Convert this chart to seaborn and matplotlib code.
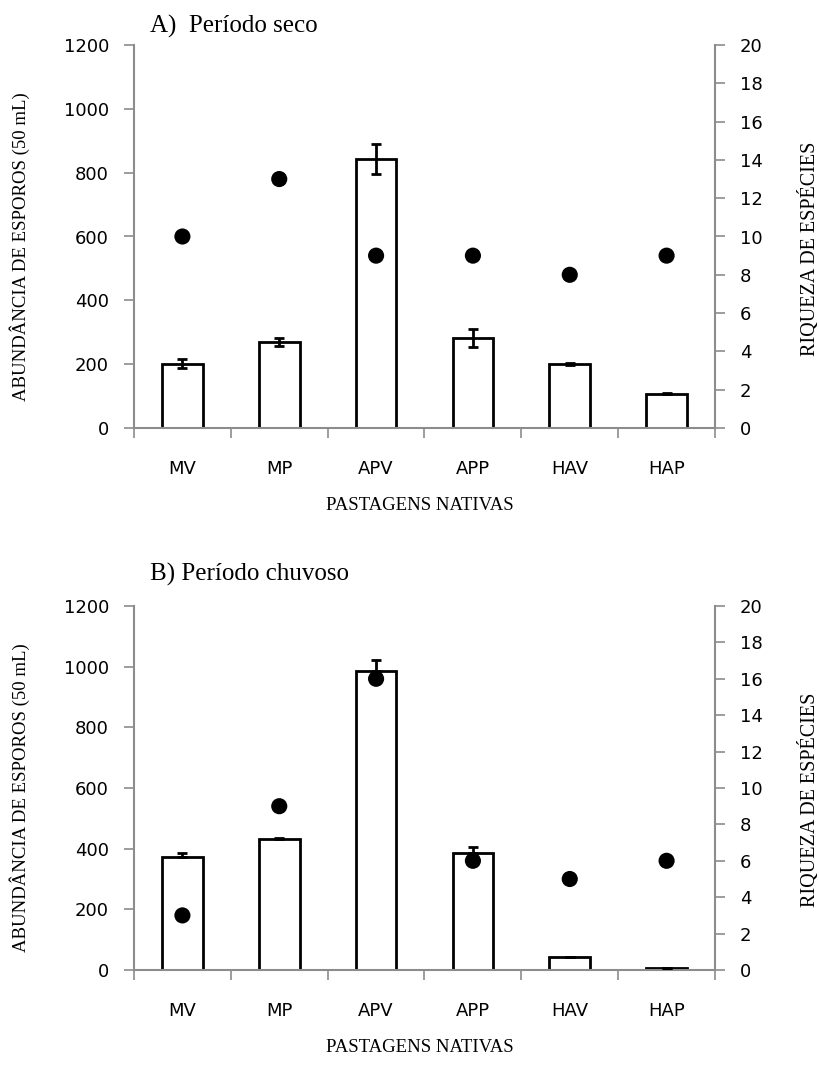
import numpy as np
import pandas as pd
import matplotlib
matplotlib.use("Agg")
import matplotlib.pyplot as plt
import seaborn as sns

# --- dados ---
pastagens = ["MV", "MP", "APV", "APP", "HAV", "HAP"]
tick_labels = ["MV", "MP", "APV", "APP", "HAV", "HAP"]

# A) período seco
abund_seco = [202, 270, 844, 283, 200, 107]
erro_seco = [15, 13, 47, 28, 3, 2]
riqueza_seco = [10, 13, 9, 9, 8, 9]

# B) período chuvoso
abund_chuva = [374, 432, 985, 387, 43, 7]
erro_chuva = [12, 4, 38, 18, 0, 0]
riqueza_chuva = [3, 9, 16, 6, 5, 6]

sns.set_theme(style="white")
plt.rcParams["font.family"] = ["DejaVu Sans"]

GRAY = "#8c8c8c"
SERIF = ["Liberation Serif", "DejaVu Serif"]

fig = plt.figure(figsize=(8.2, 10.66), dpi=100)
W, H = 820, 1066


def painel(rect, abund, erro, riqueza, titulo, titulo_y, so_acima):
    ax = fig.add_axes(rect)
    df = pd.DataFrame({"Pastagem": pastagens, "Abundancia": abund})
    sns.barplot(
        data=df,
        x="Pastagem",
        y="Abundancia",
        order=pastagens,
        color="white",
        edgecolor="black",
        linewidth=2,
        width=0.42,
        errorbar=None,
        ax=ax,
    )
    if so_acima:
        yerr = [np.zeros(len(erro)), erro]
    else:
        yerr = erro
    ax.errorbar(
        np.arange(len(pastagens)),
        abund,
        yerr=yerr,
        fmt="none",
        ecolor="black",
        elinewidth=2,
        capsize=3.6,
        capthick=2,
        zorder=5,
    )
    ax.set_xlim(-0.5, 5.5)
    ax.set_ylim(0, 1200)
    ax.set_yticks(np.arange(0, 1201, 200))
    ax.set_xticks(np.arange(len(pastagens)))
    ax.set_xticklabels(tick_labels)
    ax.set_xticks(np.arange(-0.5, 6.0, 1), minor=True)
    ax.tick_params(axis="x", which="major", length=0, pad=23, labelsize=13,
                   labelcolor="black")
    ax.tick_params(axis="x", which="minor", length=7, width=1.2, color=GRAY,
                   direction="out", bottom=True)
    ax.tick_params(axis="y", which="major", length=7, width=1.2, color=GRAY,
                   direction="out", left=True, pad=11, labelsize=13,
                   labelcolor="black")
    ax.set_xlabel("")
    ax.set_ylabel("")
    for s in ["top", "right"]:
        ax.spines[s].set_visible(False)
    for s in ["left", "bottom"]:
        ax.spines[s].set_color(GRAY)
        ax.spines[s].set_linewidth(1.5)

    ax2 = ax.twinx()
    sns.scatterplot(
        x=np.arange(len(pastagens)),
        y=riqueza,
        color="black",
        s=135,
        edgecolor="none",
        ax=ax2,
        zorder=6,
    )
    ax2.set_xlim(-0.5, 5.5)
    ax2.set_ylim(0, 20)
    ax2.set_yticks(np.arange(0, 21, 2))
    ax2.tick_params(axis="y", length=7, width=1.2, color=GRAY, direction="out",
                    right=True, pad=11, labelsize=13, labelcolor="black")
    for s in ["top", "left", "bottom"]:
        ax2.spines[s].set_visible(False)
    ax2.spines["right"].set_color(GRAY)
    ax2.spines["right"].set_linewidth(1.5)
    ax2.grid(False)
    ax.grid(False)

    x0, y0, w, h = rect
    fig.text(150 / W, titulo_y, titulo, family=SERIF, fontsize=18,
             ha="left", va="baseline", color="black")
    fig.text(20 / W, y0 + h / 2 - 10 / H, "ABUNDÂNCIA DE ESPOROS (50 mL)",
             family=SERIF, fontsize=13.5, rotation=90, ha="center",
             va="center", color="black")
    fig.text(810 / W, y0 + h / 2 - 12 / H, "RIQUEZA DE ESPÉCIES", family=SERIF,
             fontsize=14.5, rotation=90, ha="center", va="center",
             color="black")
    fig.text(x0 + w / 2 - 5 / W, y0 - 77 / H, "PASTAGENS NATIVAS", family=SERIF,
             fontsize=13.5, ha="center", va="center", color="black")
    return ax


painel([134 / W, 1 - 428 / H, 581 / W, 383 / H], abund_seco, erro_seco,
       riqueza_seco, "A)  Período seco", 1 - 33 / H, False)
painel([134 / W, 1 - 970 / H, 581 / W, 364 / H], abund_chuva, erro_chuva,
       riqueza_chuva, "B) Período chuvoso", 1 - 581 / H, True)

fig.savefig("out.png", dpi=100, facecolor="white")
